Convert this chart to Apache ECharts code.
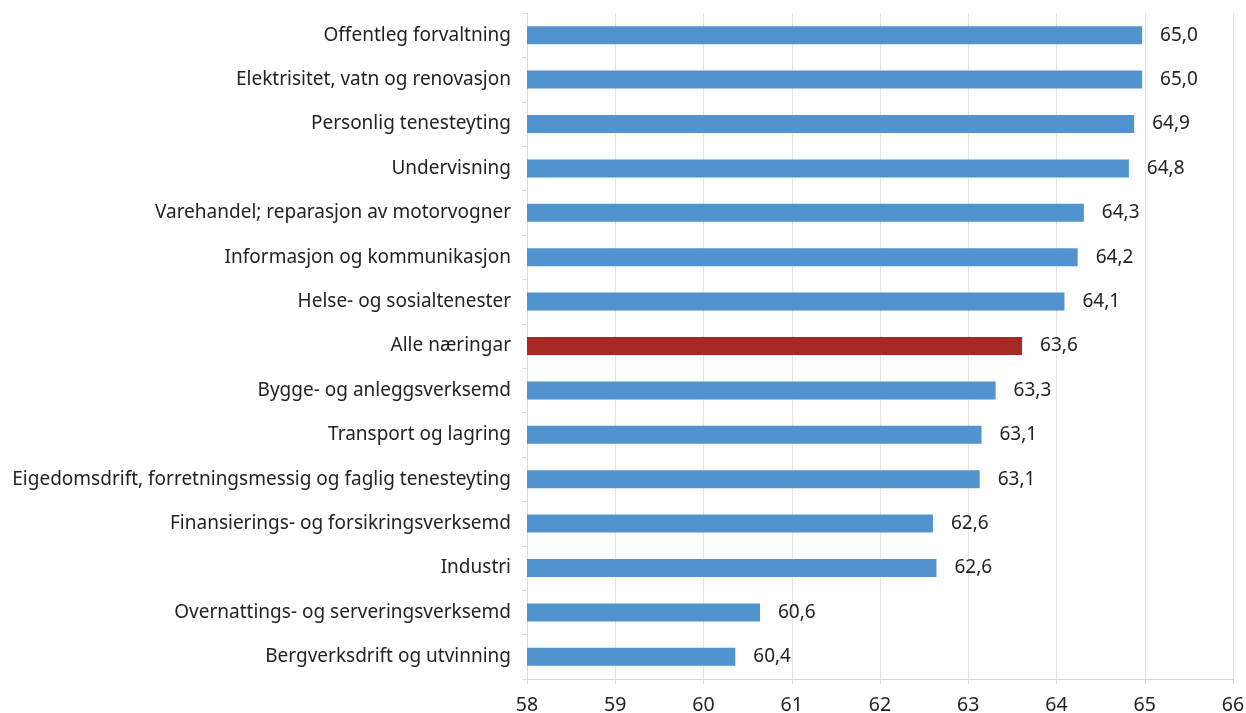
<!DOCTYPE html>
<html><head><meta charset="utf-8">
<script src="https://cdn.jsdelivr.net/npm/echarts@6/dist/echarts.min.js"></script>
<style>html,body{margin:0;padding:0;background:#fff}#c{width:1246px;height:713px}</style>
</head><body><div id="c"></div>
<script>
const categories = ["Offentleg forvaltning","Elektrisitet, vatn og renovasjon","Personlig tenesteyting","Undervisning","Varehandel; reparasjon av motorvogner","Informasjon og kommunikasjon","Helse- og sosialtenester","Alle næringar","Bygge- og anleggsverksemd","Transport og lagring","Eigedomsdrift, forretningsmessig og faglig tenesteyting","Finansierings- og forsikringsverksemd","Industri","Overnattings- og serveringsverksemd","Bergverksdrift og utvinning"];
const values = [64.97,64.97,64.88,64.82,64.31,64.24,64.09,63.61,63.31,63.15,63.13,62.60,62.64,60.64,60.36];
const highlight = "Alle næringar";
const xTicks = [58,59,60,61,62,63,64,65,66];
const chart = echarts.init(document.getElementById('c'));
const font = "Noto Sans";
chart.setOption({
  animation:false,
  grid:{left:527,right:13,top:13,bottom:34,containLabel:false,outerBoundsMode:'none'},
  xAxis:{type:'value',min:xTicks[0],max:xTicks[xTicks.length-1],interval:1,
    axisLine:{show:true,lineStyle:{color:'#d9d9d9'}},
    axisTick:{show:true,length:5,lineStyle:{color:'#d9d9d9'}},
    splitLine:{show:true,lineStyle:{color:'#e3e3e3',width:1}},
    axisLabel:{color:'#222',fontFamily:font,fontSize:19.5,margin:16}},
  yAxis:{type:'category',data:categories,inverse:true,
    axisLine:{show:true,lineStyle:{color:'#d9d9d9'}},
    axisTick:{show:true,length:5,lineStyle:{color:'#d9d9d9'}},
    axisLabel:{color:'#222',fontFamily:font,fontSize:19,margin:16}},
  series:[{type:'bar',barWidth:18,
    data:values.map((v,i)=>({value:v,itemStyle:{color:categories[i]===highlight?'#A52A25':'#5093CE'}})),
    label:{show:true,position:'right',distance:18,color:'#222',fontFamily:font,fontSize:19,
      formatter:p=>p.value.toFixed(1).replace('.',',')}}]
});
</script></body></html>
